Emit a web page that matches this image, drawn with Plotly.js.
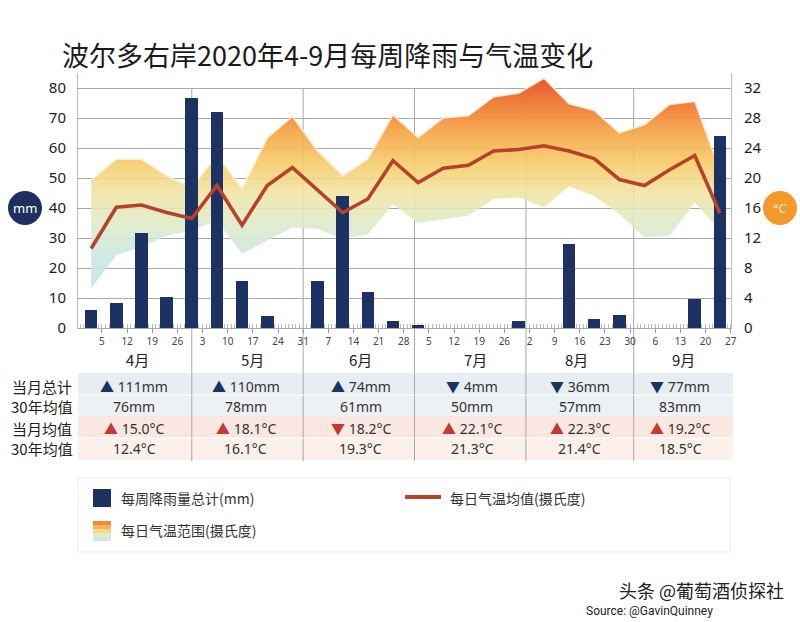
<!DOCTYPE html>
<html>
<head>
<meta charset="utf-8">
<script src="https://cdn.plot.ly/plotly-3.0.1.min.js"></script>
<style>html,body{margin:0;padding:0;background:#fff;}#chart{width:800px;height:622px;}</style>
</head>
<body>
<div id="chart"></div>
<script>
// ---- data ----
const weeks = ['2020-04-02','2020-04-09','2020-04-16','2020-04-23','2020-04-30','2020-05-07','2020-05-14','2020-05-21','2020-05-28',
  '2020-06-04','2020-06-11','2020-06-18','2020-06-25','2020-07-02','2020-07-09','2020-07-16','2020-07-23','2020-07-30',
  '2020-08-06','2020-08-13','2020-08-20','2020-08-27','2020-09-03','2020-09-10','2020-09-17','2020-09-24'];
const rain = [6, 8.2, 31.6, 10.5, 76.6, 72, 15.6, 4.1, 0, 15.6, 43.9, 11.9, 2.3, 1.0, 0, 0, 0, 2.2, 0, 28, 3.1, 4.5, 0, 0, 9.6, 64];
const tMean = [10.6, 16.1, 16.4, 15.4, 14.6, 19.0, 13.7, 19.0, 21.4, 18.4, 15.4, 17.2, 22.3, 19.4, 21.3, 21.7, 23.6, 23.8, 24.3, 23.6, 22.6, 19.8, 19.0, 21.1, 23.0, 15.3];
const tHigh = [19.7, 22.5, 22.5, 20.3, 18.7, 23.0, 18.6, 25.3, 28.2, 23.6, 20.3, 22.5, 28.4, 25.4, 28.0, 28.3, 30.8, 31.3, 33.3, 29.9, 29.0, 26.0, 27.1, 29.8, 30.2, 21.0];
const tLow  = [5.3, 9.7, 10.8, 12.3, 13.0, 14.3, 9.9, 11.7, 13.4, 13.2, 11.9, 12.5, 16.5, 14.0, 14.5, 15.0, 17.2, 17.4, 16.1, 18.9, 17.6, 15.2, 12.1, 12.3, 16.7, 13.0];

const months = ['4月','5月','6月','7月','8月','9月'];
const rainTotal = [111, 110, 74, 4, 36, 77];
const rainNorm  = [76, 78, 61, 50, 57, 83];
const tempMonth = [15.0, 18.1, 18.2, 22.1, 22.3, 19.2];
const tempNorm  = [12.4, 16.1, 19.3, 21.3, 21.4, 18.5];
const rowLabels = ['当月总计','30年均值','当月均值','30年均值'];

// ---- layout helpers ----
const L = 78, R = 731, T = 73, B = 328;
const PX = p => (p - L) / (R - L);
const PY = p => (B - p) / (B - T);
const NAVY = '#1c3263', RED = '#b5432b', TRI_RED = '#c23b30';
const FONT = "'Noto Sans', 'Noto Sans CJK SC', sans-serif";
const CJK = "'Noto Sans CJK SC', 'Noto Sans', sans-serif";

const monthLabelX = ['2020-04-15','2020-05-17','2020-06-16','2020-07-18','2020-08-15','2020-09-14'];
const colX = ['2020-04-14','2020-05-15','2020-06-16','2020-07-17','2020-08-16','2020-09-13'];
const dividers = ['2020-04-30','2020-05-31','2020-07-01','2020-08-01','2020-08-31'];

const DAY = 86400000;

const traces = [
  {type:'scatter', x:weeks, y:tLow, yaxis:'y', mode:'lines', line:{width:0, color:'rgba(0,0,0,0)'}, hoverinfo:'skip', showlegend:false},
  {type:'scatter', x:weeks, y:tHigh, yaxis:'y', mode:'lines', fill:'tonexty',
   line:{width:1.5, color:'rgba(255,236,215,0.9)'},
   fillgradient:{type:'vertical', start:4, stop:34, colorscale:[
     [0, 'rgba(188,227,236,0.88)'],
     [0.2, 'rgba(204,231,224,0.88)'],
     [0.333, 'rgba(222,234,200,0.88)'],
     [0.467, 'rgba(241,228,163,0.88)'],
     [0.6, 'rgba(246,204,104,0.9)'],
     [0.733, 'rgba(245,166,70,0.92)'],
     [0.867, 'rgba(239,120,50,0.95)'],
     [1, 'rgba(228,78,38,1)']]},
   showlegend:false},
  {type:'bar', x:weeks, y:rain, yaxis:'y2', width:3.5*DAY, marker:{color:NAVY}, showlegend:false},
  {type:'scatter', x:weeks, y:tMean, yaxis:'y3', mode:'lines', line:{color:RED, width:3.6}, showlegend:false}
];

const shapes = [];
const annotations = [];
const ann = o => annotations.push(Object.assign({showarrow:false, xanchor:'center', yanchor:'middle'}, o));

// table backgrounds
shapes.push({type:'rect', xref:'paper', yref:'paper', x0:0, x1:PX(733), y0:PY(395), y1:PY(373), fillcolor:'#e7eef2', line:{width:0}, layer:'below'});
shapes.push({type:'rect', xref:'paper', yref:'paper', x0:0, x1:PX(733), y0:PY(416), y1:PY(395), fillcolor:'#edf1f4', line:{width:0}, layer:'below'});
shapes.push({type:'rect', xref:'paper', yref:'paper', x0:0, x1:PX(733), y0:PY(438), y1:PY(416), fillcolor:'#fbe7e1', line:{width:0}, layer:'below'});
shapes.push({type:'rect', xref:'paper', yref:'paper', x0:0, x1:PX(733), y0:PY(460), y1:PY(438), fillcolor:'#fcf0eb', line:{width:0}, layer:'below'});
shapes.push({type:'line', xref:'paper', yref:'paper', x0:0, x1:PX(733), y0:PY(395), y1:PY(395), line:{color:'#ffffff', width:1}});
shapes.push({type:'line', xref:'paper', yref:'paper', x0:0, x1:PX(733), y0:PY(438), y1:PY(438), line:{color:'#ffffff', width:1}});

// month dividers
dividers.forEach(d => {
  shapes.push({type:'line', xref:'x', yref:'paper', x0:d, x1:d, y0:PY(461), y1:PY(88), line:{color:'#a8a8a8', width:1}, layer:'below'});
});

// unit circles
shapes.push({type:'circle', xref:'paper', yref:'paper', x0:PX(8), x1:PX(42), y0:PY(225), y1:PY(191), fillcolor:'#1d2f5e', line:{width:0}});
shapes.push({type:'circle', xref:'paper', yref:'paper', x0:PX(763), x1:PX(797), y0:PY(225), y1:PY(191), fillcolor:'#f39a2a', line:{width:0}});
ann({xref:'paper', yref:'paper', x:PX(25), y:PY(208), text:'mm', font:{family:FONT, size:13, color:'#ffffff'}});
ann({xref:'paper', yref:'paper', x:PX(780), y:PY(208), text:'°C', font:{family:FONT, size:13, color:'#fff3d6'}});

// month labels
months.forEach((m, i) => {
  ann({xref:'x', yref:'paper', x:monthLabelX[i], y:PY(359), text:m, font:{family:CJK, size:15, color:'#222'}});
});

// table
const rowY = [386, 406, 428, 448];
rowLabels.forEach((r, i) => {
  ann({xref:'paper', yref:'paper', x:PX(42), y:PY(rowY[i]), text:r, font:{family:CJK, size:15, color:'#222'}});
});
const tri = (up, color) => `<span style="color:${color}">${up ? '▲' : '▼'}</span> `;
months.forEach((m, i) => {
  const f = {family:FONT, size:14, color:'#333'};
  ann({xref:'x', yref:'paper', x:colX[i], y:PY(rowY[0]), font:f,
    text: tri(rainTotal[i] > rainNorm[i], NAVY) + rainTotal[i] + 'mm'});
  ann({xref:'x', yref:'paper', x:colX[i], y:PY(rowY[1]), font:f,
    text: rainNorm[i] + 'mm'});
  ann({xref:'x', yref:'paper', x:colX[i], y:PY(rowY[2]), font:f,
    text: tri(tempMonth[i] > tempNorm[i], TRI_RED) + tempMonth[i].toFixed(1) + '°C'});
  ann({xref:'x', yref:'paper', x:colX[i], y:PY(rowY[3]), font:f,
    text: tempNorm[i].toFixed(1) + '°C'});
});

// legend
shapes.push({type:'rect', xref:'paper', yref:'paper', x0:PX(78), x1:PX(730), y0:PY(552), y1:PY(478), line:{color:'#eeeeee', width:1}, fillcolor:'rgba(0,0,0,0)'});
shapes.push({type:'rect', xref:'paper', yref:'paper', x0:PX(93), x1:PX(111), y0:PY(507), y1:PY(489), fillcolor:NAVY, line:{width:0}});
shapes.push({type:'line', xref:'paper', yref:'paper', x0:PX(405), x1:PX(441), y0:PY(497), y1:PY(497), line:{color:RED, width:4}});
const sw = ['#f08a3a','#f6b655','#f5d98f','#e3ecc9','#cde8e6'];
sw.forEach((c, i) => {
  shapes.push({type:'rect', xref:'paper', yref:'paper', x0:PX(93), x1:PX(111), y0:PY(521 + (i+1)*4), y1:PY(521 + i*4), fillcolor:c, line:{width:0}});
});
ann({xref:'paper', yref:'paper', x:PX(119), y:PY(498), xanchor:'left', text:'每周降雨量总计(mm)', font:{family:CJK, size:14, color:'#333'}});
ann({xref:'paper', yref:'paper', x:PX(448), y:PY(498), xanchor:'left', text:'每日气温均值(摄氏度)', font:{family:CJK, size:14, color:'#333'}});
ann({xref:'paper', yref:'paper', x:PX(119), y:PY(530), xanchor:'left', text:'每日气温范围(摄氏度)', font:{family:CJK, size:14, color:'#333'}});

// footer
ann({xref:'paper', yref:'paper', x:PX(786), y:PY(590), xanchor:'right', text:'头条 @葡萄酒侦探社', font:{family:CJK, size:18, color:'#222'}});
ann({xref:'paper', yref:'paper', x:PX(584), y:PY(611), xanchor:'left', text:'Source: @GavinQuinney', font:{family:"'Liberation Sans Narrow', 'Roboto', sans-serif", size:12, color:'#222'}});

const layout = {
  width:800, height:622,
  margin:{l:L, r:800-R, t:T, b:622-B, pad:0},
  paper_bgcolor:'#ffffff', plot_bgcolor:'rgba(0,0,0,0)',
  font:{family:FONT, color:'#222'},
  showlegend:false,
  bargap:0,
  title:{text:'波尔多右岸2020年4-9月每周降雨与气温变化', x:62/800, xanchor:'left', xref:'container', y:1-57/622, yanchor:'middle', yref:'container',
    font:{family:CJK, size:27, color:'#1a1a1a'}},
  xaxis:{type:'date', range:['2020-03-29 08:00','2020-09-27 02:00'], tick0:'2020-04-05', dtick:7*DAY, tickformat:'%-d',
    ticks:'outside', ticklen:4, tickcolor:'#999', tickfont:{family:FONT, size:10, color:'#444'},
    showgrid:false, showline:true, linecolor:'#aaa', zeroline:false, layer:'below traces',
    minor:{dtick:DAY, tick0:'2020-04-05', ticks:'inside', ticklen:4, tickcolor:'#bbb', showgrid:false}},
  yaxis:{range:[0,34], dtick:4, tick0:0, side:'right', showgrid:true, gridcolor:'#a9a9a9', gridwidth:1,
    showline:true, linecolor:'#bbb', zeroline:false, ticks:'', ticklabelstandoff:9,
    tickfont:{family:FONT, size:15, color:'#222'}},
  yaxis2:{range:[0,85], dtick:10, tick0:0, overlaying:'y', side:'left', showgrid:false, showline:true, linecolor:'#bbb',
    zeroline:false, ticks:'', ticklabelstandoff:8, tickfont:{family:FONT, size:15, color:'#222'}},
  yaxis3:{range:[0,34], overlaying:'y', visible:false, showgrid:false, zeroline:false},
  shapes:shapes,
  annotations:annotations
};

Plotly.newPlot('chart', traces, layout, {displayModeBar:false, staticPlot:true});
</script>
</body>
</html>
